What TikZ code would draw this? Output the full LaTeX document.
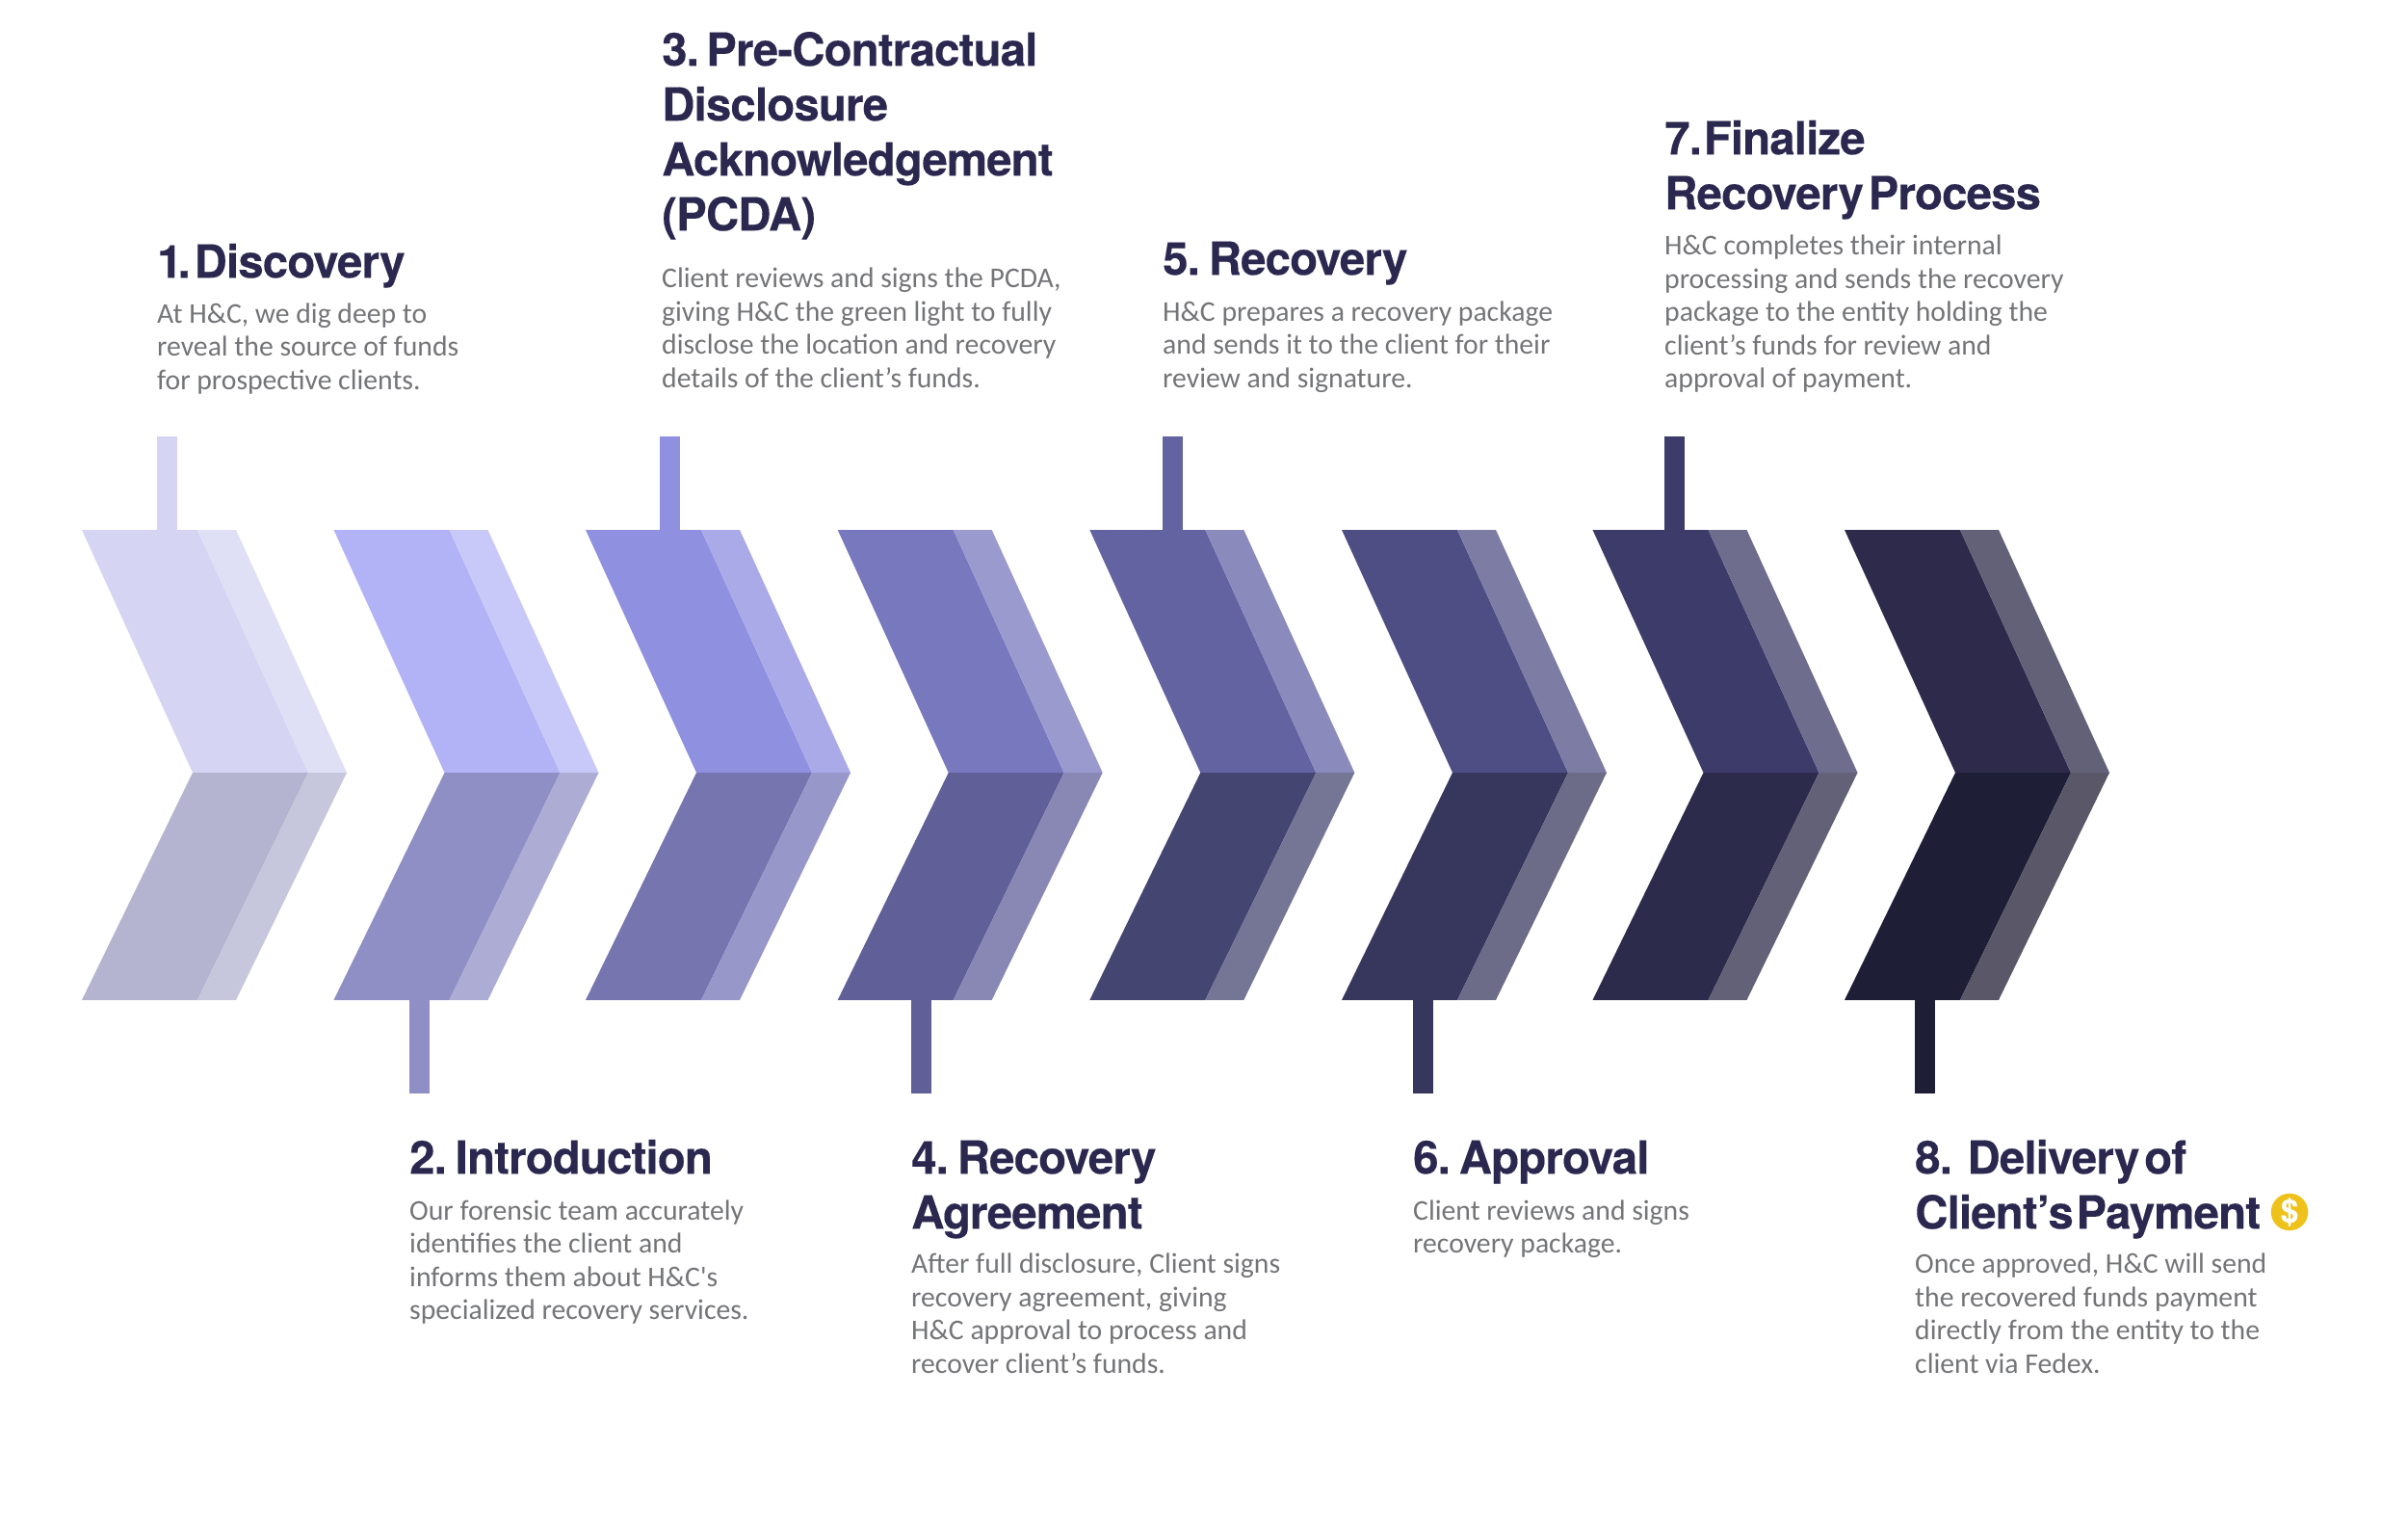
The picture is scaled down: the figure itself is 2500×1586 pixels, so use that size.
\documentclass[tikz,border=0pt]{standalone}
\usepackage{fontspec}
\newfontfamily\headf[LetterSpace=-1.8,WordSpace=0.55,BoldFeatures={FakeBold=0.25}]{TeX Gyre Heros}
\newfontfamily\bodyf{Carlito}
\definecolor{ink}{HTML}{2B2850}
\definecolor{bodyc}{HTML}{747578}
\definecolor{coin}{HTML}{EEC21A}
\definecolor{ta1}{HTML}{D5D5F3}\definecolor{tb1}{HTML}{DFDFF6}\definecolor{ba1}{HTML}{B4B4D0}\definecolor{bb1}{HTML}{C6C7DC}
\definecolor{ta2}{HTML}{B2B2F6}\definecolor{tb2}{HTML}{C9C9F9}\definecolor{ba2}{HTML}{908FC5}\definecolor{bb2}{HTML}{ADACD5}
\definecolor{ta3}{HTML}{8F90E0}\definecolor{tb3}{HTML}{AAAAE9}\definecolor{ba3}{HTML}{7775B0}\definecolor{bb3}{HTML}{9897CA}
\definecolor{ta4}{HTML}{7878BF}\definecolor{tb4}{HTML}{9A9ACF}\definecolor{ba4}{HTML}{605F98}\definecolor{bb4}{HTML}{8988B5}
\definecolor{ta5}{HTML}{6363A2}\definecolor{tb5}{HTML}{8A8ABC}\definecolor{ba5}{HTML}{454572}\definecolor{bb5}{HTML}{757596}
\definecolor{ta6}{HTML}{4E4E85}\definecolor{tb6}{HTML}{7C7CA4}\definecolor{ba6}{HTML}{37375E}\definecolor{bb6}{HTML}{6C6C88}
\definecolor{ta7}{HTML}{3D3B69}\definecolor{tb7}{HTML}{6E6D8D}\definecolor{ba7}{HTML}{2C2B4C}\definecolor{bb7}{HTML}{626177}
\definecolor{ta8}{HTML}{2E2A4C}\definecolor{tb8}{HTML}{636177}\definecolor{ba8}{HTML}{1F1E37}\definecolor{bb8}{HTML}{5A5868}
\newcommand\hs{\rule{0pt}{40pt}}
\newcommand\bs{\rule{0pt}{28pt}}
% #1 index, #2 left x
\newcommand\chevron[2]{%
  \begin{scope}[xshift=#2pt]
    \fill[ta#1] (0,550) -- (120,550) -- (235,802) -- (115,802) -- cycle;
    \fill[tb#1] (120,550) -- (160,550) -- (275,802) -- (235,802) -- cycle;
    \fill[ba#1] (115,802) -- (235,802) -- (120,1038) -- (0,1038) -- cycle;
    \fill[bb#1] (235,802) -- (275,802) -- (160,1038) -- (120,1038) -- cycle;
  \end{scope}}
\newcommand\stemup[2]{\fill[#1] (#2,453) rectangle (#2+21,551);}
\newcommand\stemdown[2]{\fill[#1] (#2,1037) rectangle (#2+21,1135);}
\tikzset{
  headnode/.style={anchor=north west,inner sep=0pt,align=left,text=ink,font=\headf\bfseries\fontsize{47.4}{57}\selectfont},
  bodynode/.style={anchor=north west,inner sep=0pt,align=left,text=bodyc,font=\bodyf\fontsize{29.7}{34.5}\selectfont},
  coinnode/.style={circle,fill=coin,inner sep=0pt,minimum size=38.5pt,text=white,font=\headf\bfseries\fontsize{33}{33}\selectfont}
}
\begin{document}
\begin{tikzpicture}[x=1pt,y=-1pt]
\useasboundingbox (0,0) rectangle (2500,1586);
\fill[white] (0,0) rectangle (2500,1586);
\stemup{ta1}{163}
\stemdown{ba2}{425}
\stemup{ta3}{685}
\stemdown{ba4}{945.5}
\stemup{ta5}{1207}
\stemdown{ba6}{1467}
\stemup{ta7}{1728}
\stemdown{ba8}{1988}
\chevron{1}{85}
\chevron{2}{346.5}
\chevron{3}{608}
\chevron{4}{869.7}
\chevron{5}{1131.3}
\chevron{6}{1393}
\chevron{7}{1653.5}
\chevron{8}{1915}
\node[headnode] (h1) at (163,248) {\hs 1\kern-5pt.\hspace{-7pt} Discovery};
\node[bodynode] (b1) at (163,307) {\bs At H\&C, we dig deep to\\reveal the source of funds\\for prospective clients.};
\node[headnode] (h2) at (425,1178) {\hs 2.\hspace{-2pt} Introduction};
\node[bodynode] (b2) at (425,1238) {\bs Our forensic team accurately\\identifies the client and\\informs them about H\&C's\\specialized recovery services.};
\node[headnode] (h3) at (687,28) {\hs 3.\hspace{-3.5pt} Pre-Contractual\\Disclosure\\Acknowledgement\\(PCDA)};
\node[bodynode] (b3) at (687,270.5) {\bs Client reviews and signs the PCDA,\\giving H\&C the green light to fully\\disclose the location and recovery\\details of the client’s funds.};
\node[headnode] (h4) at (946,1178) {\hs 4.\hspace{-2pt} Recovery\\Agreement};
\node[bodynode] (b4) at (946,1293.5) {\bs After full disclosure, Client signs\\recovery agreement, giving\\H\&C approval to process and\\recover client’s funds.};
\node[headnode] (h5) at (1207,245) {\hs 5.\hspace{-2pt} Recovery};
\node[bodynode] (b5) at (1207,305) {\bs H\&C prepares a recovery package\\and sends it to the client for their\\review and signature.};
\node[headnode] (h6) at (1467,1178) {\hs 6.\hspace{-2pt} Approval};
\node[bodynode] (b6) at (1467,1238) {\bs Client reviews and signs\\recovery package.};
\node[headnode] (h7) at (1728,120) {\hs 7.\hspace{-9pt} Finalize\\Recovery\hspace{-2pt} Process};
\node[bodynode] (b7) at (1728,236.5) {\bs H\&C completes their internal\\processing and sends the recovery\\package to the entity holding the\\client’s funds for review and\\approval of payment.};
\node[headnode] (h8) at (1988,1178) {\hs 8.\hspace{0.1em} Delivery\hspace{-2pt} of\\Client’s\hspace{-4pt} Payment};
\node[bodynode] (b8) at (1988,1293.5) {\bs Once approved, H\&C will send\\the recovered funds payment\\directly from the entity to the\\client via Fedex.};
\node[coinnode] (c8) at (2377,1258) {\$};
\end{tikzpicture}
\end{document}
